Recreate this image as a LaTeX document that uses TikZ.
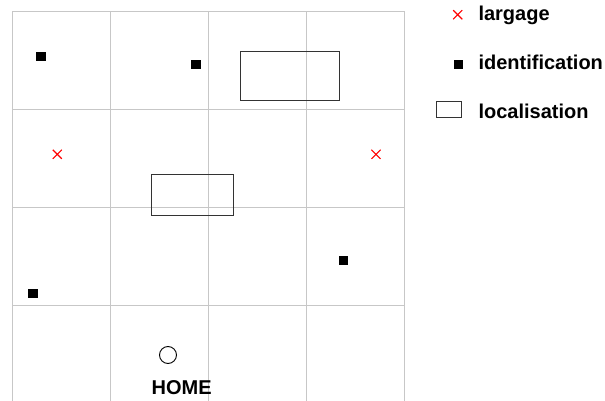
\documentclass[tikz,border=0pt]{standalone}
\usepackage{fontspec}
\setmainfont{Liberation Sans}
\usetikzlibrary{positioning,shapes.misc}

\begin{document}
\begin{tikzpicture}[
  x=1pt, y=-1pt,
  font=\fontsize{20}{24}\selectfont\bfseries,
  gridline/.style={draw=black!22, line width=1pt},
  idmark/.style={rectangle, fill=black, minimum size=9.5pt, inner sep=0pt},
  largmark/.style={cross out, draw=red, line width=1.1pt, minimum size=8pt, inner sep=0pt},
  locbox/.style={rectangle, draw=black!80, line width=1pt, inner sep=0pt},
  legtext/.style={anchor=base west, inner sep=0pt}
]

% Page frame
\useasboundingbox (0,0) rectangle (605,401);

% Grid of cells
\foreach \x in {12.5,110.5,208.5,306.5,404.5}
  \draw[gridline] (\x,11.5) -- (\x,401);
\foreach \y in {11.5,109.5,207.5,305.5}
  \draw[gridline] (12.5,\y) -- (404.5,\y);

% Localisation zones
\node[locbox, minimum width=98.5pt, minimum height=49pt] (loc1) at (290,76.5) {};
\node[locbox, minimum width=82pt, minimum height=41pt]   (loc2) at (192,194.8) {};

% Identification points
\node[idmark] (id1) at (41,56.5) {};
\node[idmark] (id2) at (196,64.7) {};
\node[idmark] (id3) at (33,293.5) {};
\node[idmark] (id4) at (343.5,260.7) {};

% Drop points
\node[largmark] (larg1) at (57.3,154.3) {};
\node[largmark] (larg2) at (376,154.3) {};

% Home base
\node[circle, draw, line width=0.9pt, minimum size=17pt, inner sep=0pt] (home) at (168,355) {};
\node (homelabel) at (181.7,388) {HOME};

% Legend
\node[largmark] (legl) at (457.7,14.7) {};
\node[legtext] (leglt) at (478.3,20.7) {largage};
\node[idmark, minimum size=9pt] (legi) at (458,64.7) {};
\node[legtext] (legit) at (478.3,69.3) {identification};
\node[locbox, minimum width=25pt, minimum height=16.7pt] (legr) at (449.2,109.4) {};
\node[legtext] (legrt) at (478.3,118.3) {localisation};

\end{tikzpicture}
\end{document}
